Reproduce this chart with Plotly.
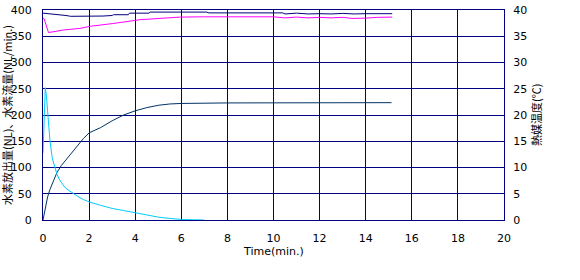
import plotly.graph_objects as go

# Hydrogen release rate (NL/min) - cyan
rate_t = [0, 0.1, 0.15, 0.2, 0.3, 0.4, 0.5, 0.6, 0.7, 0.8, 0.9, 1.0, 1.25, 1.5, 1.75, 2.0, 2.5, 3.0, 3.5, 4.0, 4.5, 5.0, 5.5, 5.8, 6.0, 6.5, 7.0]
rate_v = [128, 252, 235, 205, 152, 118, 100, 88, 78, 71, 65, 60, 52, 45, 39, 34.5, 28, 22, 18, 14, 10, 5.5, 3, 1.5, 1, 0.5, 0]

# Cumulative hydrogen released (NL) - dark teal
cum_t = [0, 0.05, 0.1, 0.2, 0.3, 0.4, 0.5, 0.6, 0.8, 1.0, 1.25, 1.5, 1.75, 2.0, 2.5, 3.0, 3.5, 4.0, 4.5, 5.0, 5.5, 6.0, 7.0, 8.0, 15.12]
cum_v = [0, 10, 25, 44, 58, 70, 80, 90, 104, 115, 129, 142, 155, 166, 176, 189, 200, 208, 214, 218.5, 221, 222, 222.5, 223, 223.5]

# Heat-medium temperatures (deg C) - navy and magenta
nav_t = [0, 0.3, 0.6, 1.0, 1.2, 2.0, 2.6, 3.0, 3.05, 3.7, 3.75, 4.6, 4.65, 7.1, 7.2, 10.4, 10.5, 11.0, 11.5, 12.0, 12.5, 13.0, 13.5, 14.0, 14.5, 15.15]
nav_v = [39.4, 39.3, 39.1, 38.95, 38.8, 38.75, 38.85, 38.95, 39.1, 39.1, 39.4, 39.4, 39.6, 39.6, 39.45, 39.45, 39.25, 39.4, 39.25, 39.3, 39.25, 39.35, 39.25, 39.3, 39.3, 39.3]

mag_t = [0, 0.05, 0.24, 0.5, 0.9, 1.6, 2.05, 3.0, 3.7, 4.2, 5.07, 5.95, 7.0, 10.0, 10.5, 11.0, 11.5, 12.0, 12.5, 13.0, 13.4, 13.7, 14.0, 14.5, 15.15]
mag_v = [38.5, 38.3, 35.7, 35.9, 36.2, 36.5, 36.9, 37.4, 37.9, 38.15, 38.4, 38.65, 38.7, 38.7, 38.5, 38.65, 38.5, 38.6, 38.5, 38.6, 38.4, 38.4, 38.45, 38.6, 38.65]

x_ticks = list(range(0, 21, 2))
y_ticks = list(range(0, 401, 50))
y2_ticks = list(range(0, 41, 5))

NAVY = "#000080"
tick_font = dict(family="DejaVu Sans", size=11, color="black")
jp_font = dict(family="Noto Sans CJK JP", size=11, color="black")

fig = go.Figure()
fig.add_trace(go.Scatter(x=nav_t, y=nav_v, mode="lines", yaxis="y2",
                         line=dict(color=NAVY, width=1)))
fig.add_trace(go.Scatter(x=mag_t, y=mag_v, mode="lines", yaxis="y2",
                         line=dict(color="#FF00FF", width=1)))
fig.add_trace(go.Scatter(x=cum_t, y=cum_v, mode="lines",
                         line=dict(color="#003366", width=1)))
fig.add_trace(go.Scatter(x=rate_t, y=rate_v, mode="lines",
                         line=dict(color="#00CCFF", width=1)))

L, R, T, B = 43, 76, 4, 60
W, H = 580, 280
pw, ph = W - L - R, H - T - B

fig.update_layout(
    width=W, height=H,
    margin=dict(l=L, r=R, t=T, b=B, pad=0),
    paper_bgcolor="white", plot_bgcolor="white",
    showlegend=False,
    xaxis=dict(range=[0, 20], tickvals=x_ticks, showgrid=True, gridcolor=NAVY, gridwidth=1,
               showline=True, linecolor=NAVY, linewidth=1, mirror=True, zeroline=False,
               ticks="outside", ticklen=8, tickcolor="rgba(0,0,0,0)", tickfont=tick_font,
               ticklabeloverflow="allow"),
    yaxis=dict(range=[0, 400], tickvals=y_ticks, showgrid=True, gridcolor=NAVY, gridwidth=1,
               showline=True, linecolor=NAVY, linewidth=1, mirror=True, zeroline=False,
               ticks="outside", ticklen=8, tickcolor="rgba(0,0,0,0)", tickfont=tick_font,
               ticklabeloverflow="allow"),
    yaxis2=dict(range=[0, 40], tickvals=y2_ticks, overlaying="y", side="right", showgrid=False,
                showline=True, linecolor=NAVY, linewidth=1, zeroline=False,
                ticks="outside", ticklen=6, tickcolor="rgba(0,0,0,0)", tickfont=tick_font,
                ticklabeloverflow="allow"),
    annotations=[
        dict(text="水素放出量(NL)、水素流量(NL/min.)", xref="paper", yref="paper",
             x=(7 - L) / pw, y=0.5, xanchor="center", yanchor="middle",
             textangle=-90, showarrow=False, font=jp_font),
        dict(text="熱媒温度(℃)", xref="paper", yref="paper",
             x=(536 - L) / pw, y=0.5, xanchor="center", yanchor="middle",
             textangle=-90, showarrow=False, font=jp_font),
        dict(text="Time(min.)", xref="paper", yref="paper",
             x=0.5, y=(T + ph - 252) / ph, xanchor="center", yanchor="middle",
             showarrow=False, font=dict(family="DejaVu Sans", size=11, color="black")),
    ],
)

fig.write_html("out.html")
